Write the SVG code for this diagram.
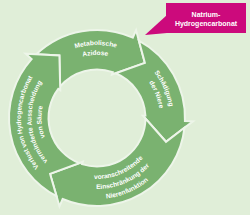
<svg xmlns="http://www.w3.org/2000/svg" width="250" height="215" viewBox="0 0 250 215">
<style>
.arrow{fill:#7ab270;stroke:#edf5e9;stroke-width:2;stroke-linejoin:miter}
.lbl{font-family:"Liberation Sans",Arial,sans-serif;font-weight:bold;font-size:6.6px;fill:#ffffff}
.box{fill:#cc0a7c}
.boxt{font-family:"Liberation Sans",Arial,sans-serif;font-weight:bold;font-size:7px;fill:#ffffff;text-anchor:middle}
</style>
<defs>
<path id="t1a" d="M28.00,94.24 A73,73 0 0 1 165.16,91.84"/>
<path id="t1b" d="M37.26,98.01 A63,63 0 0 1 155.62,94.91"/>
<path id="t2a" d="M92.29,45.15 A73,73 0 0 1 147.44,170.81"/>
<path id="t2b" d="M95.35,55.02 A63,63 0 0 1 138.73,165.18"/>
<path id="t3a" d="M52.39,159.60 A61,61 0 0 0 157.92,114.81"/>
<path id="t3b" d="M45.49,166.87 A71,71 0 0 0 167.87,113.67"/>
<path id="t3c" d="M37.76,173.24 A81,81 0 0 0 177.89,113.76"/>
<path id="t4a" d="M76.05,191.06 A76,76 0 0 1 66.09,48.57"/>
<path id="t4b" d="M78.95,180.96 A65.5,65.5 0 0 1 70.36,58.17"/>
<path id="t4c" d="M81.70,171.39 A55.5,55.5 0 0 1 74.43,67.30"/>
</defs>
<rect width="250" height="215" fill="#e0eed8"/>
<g id="node-azidose">
<path class="arrow" d="M36.28,54.31 A88,88 0 0 1 132.79,37.61 L136.05,30.30 L144.89,62.91 L111.98,74.51 L112.79,72.14 A48.5,48.5 0 0 0 60.17,86.44 L59.4,55.43 Z"/>
<text class="lbl"><textPath href="#t1a" startOffset="50%" text-anchor="middle">Metabolische</textPath></text>
<text class="lbl"><textPath href="#t1b" startOffset="50%" text-anchor="middle">Azidose</textPath></text>
</g>
<g id="node-niere">
<path class="arrow" d="M138.84,40.59 A88,88 0 0 1 184.95,121.07 L192.94,121.35 L166.02,141.77 L142.94,115.59 L145.43,115.46 A48.5,48.5 0 0 0 115.63,73.22 L144.89,62.91 Z"/>
<text class="lbl"><textPath href="#t2a" startOffset="50%" text-anchor="middle">Schädigung</textPath></text>
<text class="lbl"><textPath href="#t2b" startOffset="50%" text-anchor="middle">der Niere</textPath></text>
</g>
<g id="node-nierenfunktion">
<path class="arrow" d="M184.45,127.79 A88,88 0 0 1 62.62,199.0 L59.49,206.37 L50.08,173.92 L82.79,161.75 L82.01,164.13 A48.5,48.5 0 0 0 145.5,118.5 L166.02,141.77 Z"/>
<text class="lbl"><textPath href="#t3a" startOffset="50%" text-anchor="middle">voranschreitende</textPath></text>
<text class="lbl"><textPath href="#t3b" startOffset="50%" text-anchor="middle">Einschränkung der</textPath></text>
<text class="lbl"><textPath href="#t3c" startOffset="50%" text-anchor="middle">Nierenfunktion</textPath></text>
</g>
<g id="node-verlust">
<path class="arrow" d="M56.52,196.14 A88,88 0 0 1 31.61,59.12 L25.66,53.76 L59.4,55.43 L60.26,90.32 L58.27,88.81 A48.5,48.5 0 0 0 79.16,163.10 L50.08,173.92 Z"/>
<text class="lbl"><textPath href="#t4a" startOffset="50%" text-anchor="middle">Verlust von Hydrogencarbonat</textPath></text>
<text class="lbl"><textPath href="#t4b" startOffset="50%" text-anchor="middle">verminderte Ausscheidung</textPath></text>
<text class="lbl"><textPath href="#t4c" startOffset="50%" text-anchor="middle">von Säure</textPath></text>
</g>
<g id="connectors">
<polygon class="box" points="167,15 145,35 167,33"/>
</g>
<g id="node-natrium">
<rect class="box" x="166" y="3" width="80" height="30"/>
<text class="boxt" x="206" y="17">Natrium-</text>
<text class="boxt" x="206" y="26">Hydrogencarbonat</text>
</g>
</svg>
